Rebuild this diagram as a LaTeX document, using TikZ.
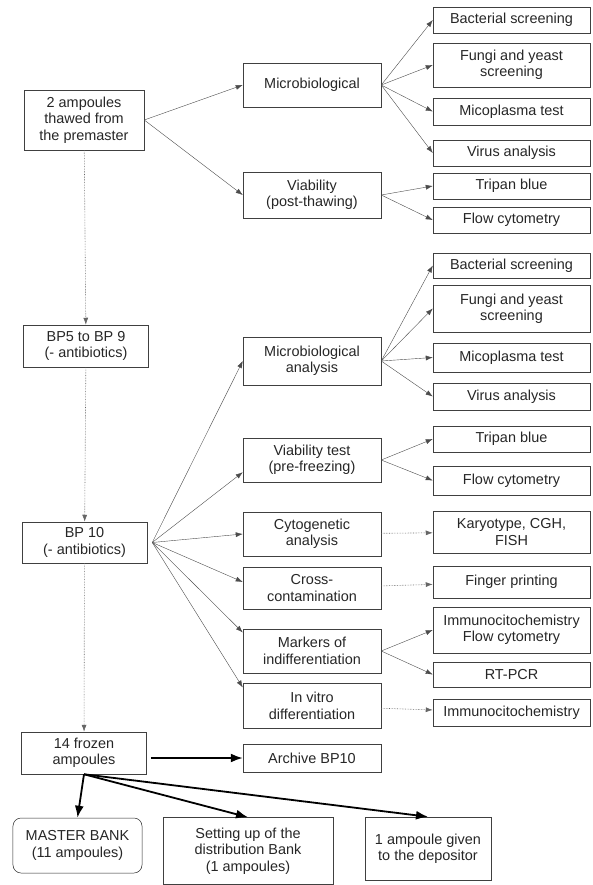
\documentclass[tikz,border=0pt]{standalone}
\usepackage{fontspec}
\setmainfont{Liberation Sans}
\usetikzlibrary{arrows.meta,calc}
\tikzset{
    block/.style = {draw=black!75, rectangle, line width=0.5bp, text=black!85,
        minimum height=42bp,
        minimum width=125bp, align=center, inner sep=2bp,
        font=\fontsize{14.5}{16.5}\selectfont},
    test/.style = {block, minimum width=138bp},
    check/.style = {block, minimum width=157bp},
    arrow/.style = {draw=black!70, thin, ->},
    link/.style = {arrow, draw=black!60, line width=0.6bp, densely dotted},
    bigarrow/.style = {draw=black, line width=1.8bp, -{Latex[length=12bp,width=9bp]}}
}
\begin{document}
\begin{tikzpicture}[x=1bp, y=-1bp, >={Latex[length=7bp,width=5bp]}]
    \useasboundingbox (0,0) rectangle (593,885);
        % left column
        \node [block, minimum width=120bp, minimum height=60bp] (thaw) at (84,120) {2 ampoules\\thawed from\\the premaster};
        \node [block] (bp5) at (86,346) {BP5 to BP 9\\(- antibiotics)};
        \node [block, minimum height=41bp] (bp10) at (84.5,542.5) {BP 10\\(- antibiotics)};
        \node [block] (frozen) at (84,753) {14 frozen\\ampoules};
        \draw [link] (thaw) -- (bp5);
        \draw [link] (bp5) -- (bp10);
        \draw [link] (bp10) -- (frozen);
        % middle column
        \foreach \n/\y/\h/\t in {micro1/85/44/Microbiological, via1/195/46/{Viability\\(post-thawing)},
            micro2/361/48/{Microbiological\\analysis}, via2/460/44/{Viability test\\(pre-freezing)},
            cyto/534/44/{Cytogenetic\\analysis}, cross/588/42/{Cross-\\contamination},
            markers/651/44/{Markers of\\indifferentiation}, invitro/706/45/{In vitro\\differentiation},
            archive/758/28/Archive BP10}{
            \node [test, minimum height=\h bp] (\n) at (312,\y) {\t};
        }
        % right column
        \foreach \n/\y/\h/\t in {bact1/20/26/Bacterial screening, fungi1/65/44/{Fungi and yeast\\screening},
            mico1/111.5/27/Micoplasma test, virus1/153/26/Virus analysis,
            tripan1/186/26/Tripan blue, flow1/220/26/Flow cytometry,
            bact2/265.5/25/Bacterial screening, fungi2/308.5/47/{Fungi and yeast\\screening},
            mico2/357.5/29/Micoplasma test, virus2/396.5/27/Virus analysis,
            tripan2/439/26/Tripan blue, flow2/480.5/29/Flow cytometry,
            karyo/532/42/{Karyotype, CGH,\\FISH}, finger/582/32/Finger printing,
            immflow/630/46/{Immunocitochemistry\\Flow cytometry}, rtpcr/674.5/25/RT-PCR,
            immuno/712.5/27/Immunocitochemistry}{
            \node [check, minimum height=\h bp] (\n) at (511.5,\y) {\t};
        }
        % fans
        \foreach \b in {micro1,via1}{
            \draw [arrow] (thaw.east) -- (\b.west);
        }
        \foreach \b in {bact1,fungi1,mico1,virus1}{
            \draw [arrow] (micro1.east) -- (\b.west);
        }
        \foreach \b in {tripan1,flow1}{
            \draw [arrow] (via1.east) -- (\b.west);
        }
        \foreach \b in {bact2,fungi2,mico2,virus2}{
            \draw [arrow] (micro2.east) -- (\b.west);
        }
        \foreach \b in {tripan2,flow2}{
            \draw [arrow] (via2.east) -- (\b.west);
        }
        \foreach \b in {immflow,rtpcr}{
            \draw [arrow] (markers.east) -- (\b.west);
        }
        \foreach \b in {micro2.west,via2.190,cyto.west,cross.175,markers.165,invitro.165}{
            \draw [arrow] ($(bp10.east)+(5,0)$) -- (\b);
        }
        \draw [link] (cyto) -- (karyo);
        \draw [link] (cross) -- (finger);
        \draw [link] (invitro) -- (immuno);
        % banks
        \node [block, draw=black!85, rounded corners=8bp, minimum width=129bp, minimum height=55bp] (master) at (77.5,845.5) {MASTER BANK\\(11 ampoules)};
        \node [block, minimum width=170bp, minimum height=67bp] (distrib) at (248,851) {Setting up of the\\distribution Bank\\(1 ampoules)};
        \node [block, minimum width=126bp, minimum height=63bp] (depositor) at (428,848.5) {1 ampoule given\\to the depositor};
        \draw [bigarrow] ($(frozen.east |- archive.west)+(4,0)$) -- (archive.west);
        \foreach \b in {master,distrib,depositor}{
            \draw [bigarrow] (frozen.south) -- (\b.north);
        }
\end{tikzpicture}
\end{document}
